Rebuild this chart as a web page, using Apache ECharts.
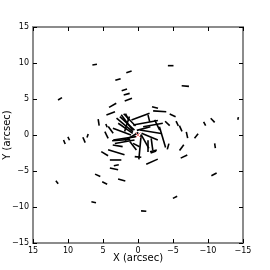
<!DOCTYPE html>
<html><head><meta charset="utf-8">
<script src="https://cdn.jsdelivr.net/npm/echarts@6/dist/echarts.min.js"></script>
<style>html,body{margin:0;padding:0;background:#fff}#c{width:270px;height:270px}</style>
</head><body><div id="c"></div>
<script>
// Vector centres (arcsec), lengths (arcsec) and position angles (deg, in data space)
const vecX = [6.19,-4.67,1.29,2.86,-6.76,1.95,1.62,1.38,11.14,3.62,3.9,-2.43,-3.1,-4.95,-10.67,-9.52,-14.3,5.62,4.5,-5.6,-4.2,-6.1,-7.0,-8.33,-11.0,10.52,9.9,7.71,7.2,4.76,3.1,3.2,3.43,3.1,5.76,4.76,2.33,11.57,6.33,-0.81,-5.29,-10.86,-6.57,-6.24,-4.3,-2.0,-2.2,0.0,
  1.9,1.55,1.79,1.55,-0.36,-1.07,-1.55,-2.74,-1.79,-1.67,-0.29,-1.43,-2.0,-2.2,1.9,1.9,2.9,0.24,4.5,3.9,0.7,
  1.57,2.29,1.57,-2.14,-3.5,0.9,-0.8,2.4,-1.0,1.2];
const vecY = [9.77,9.63,8.77,7.71,6.8,6.27,5.67,4.9,5.02,4.12,3.0,3.82,3.29,2.73,2.04,1.55,2.3,1.76,1.3,1.6,1.6,0.9,0.0,-0.14,-1.5,-0.97,-0.5,-0.69,-0.1,-2.6,-2.4,-3.47,-4.7,-4.2,-5.6,-6.67,-6.25,-6.57,-9.35,-10.56,-8.66,-5.46,-3.0,-1.76,-1.6,-3.7,-2.35,-3.05,
  1.39,1.62,0.93,2.5,2.55,1.7,2.3,1.39,0.46,-0.23,-1.67,-1.55,-1.3,-2.2,-0.46,-0.93,-1.5,-1.4,0.0,0.7,-1.5,
  1.71,0.46,1.53,1.39,-0.3,-0.2,0.9,-0.7,-0.9,2.1];
const vecLen = [0.66,0.8,0.79,0.79,1.04,0.79,0.88,1.1,0.65,1.18,1.31,0.88,1.88,0.92,0.8,0.59,0.39,0.9,0.5,0.74,0.9,0.88,0.87,0.8,0.66,0.61,0.52,0.82,0.5,1.13,2.45,1.64,1.2,0.72,0.82,0.78,1.07,0.53,0.67,0.75,0.67,0.84,1.03,1.0,0.83,1.79,0.84,0.94,
  3.0,2.8,2.5,1.05,2.75,3.6,1.0,1.6,3.1,2.5,3.45,1.64,1.66,1.0,3.3,2.85,1.43,1.05,1.05,1.17,1.5,
  2.75,2.75,2.2,2.85,3.0,2.2,2.0,2.6,2.2,2.4];
const vecAng = [172,0,163,163,5,163,165,160,150,151,159,15,4,24,45,61,104,81,68,63,43,65,77,130,82,67,63,66,110,30,17,0,11,169,24,25,15,52,12,4,155,153,156,127,106,157,161,6,
  39,42,34,63,160,170,76,63,9,22,95.5,90,82,166,172,170,9.5,27,63,53,51,
  53,20,108,170.5,73,150,165,176,60,45];
const xTicks = [15,10,5,0,-5,-10,-15];
const yTicks = [-15,-10,-5,0,5,10,15];
const centre = [[0,0]];

const vecData = vecX.map((x,i)=>[x, vecY[i], vecLen[i], vecAng[i]]);
const fmt = v => String(v).replace('-', '\u2212');
const font = 'DejaVu Sans';
const chart = echarts.init(document.getElementById('c'), null, {renderer:'canvas'});
const axCommon = {
  type:'value', min:-15, max:15, interval:5,
  splitLine:{show:false},
  axisLine:{show:false, onZero:false},
  axisTick:{show:true, inside:true, length:4, lineStyle:{color:'#000', width:1}}
};
chart.setOption({
  animation:false,
  grid:{left:33, right:27, top:27, bottom:27, containLabel:false, outerBoundsMode:'none', show:true, borderColor:'#8c8c8c', borderWidth:2},
  xAxis:[
    Object.assign({}, axCommon, {inverse:true, position:'bottom', name:'X (arcsec)', nameLocation:'middle', nameGap:10, nameMoveOverlap:false,
      nameTextStyle:{fontFamily:font, fontSize:10, color:'#000'},
      axisLabel:{margin:4, fontFamily:font, fontSize:8, color:'#000', formatter:fmt}}),
    Object.assign({}, axCommon, {inverse:true, position:'top', axisLabel:{show:false}})
  ],
  yAxis:[
    Object.assign({}, axCommon, {position:'left', name:'Y (arcsec)', nameLocation:'middle', nameGap:21, nameMoveOverlap:false,
      nameTextStyle:{fontFamily:font, fontSize:10, color:'#000'},
      axisLabel:{margin:4, fontFamily:font, fontSize:8, color:'#000', formatter:fmt}}),
    Object.assign({}, axCommon, {position:'right', axisLabel:{show:false}})
  ],
  series:[
    {type:'custom', xAxisIndex:0, yAxisIndex:0, data:vecData, clip:true,
     renderItem:function(params, api){
       const x=api.value(0), y=api.value(1), L=api.value(2), a=api.value(3)*Math.PI/180;
       const dx=L/2*Math.cos(a), dy=L/2*Math.sin(a);
       const p1=api.coord([x-dx,y-dy]), p2=api.coord([x+dx,y+dy]);
       return {type:'line', shape:{x1:p1[0],y1:p1[1],x2:p2[0],y2:p2[1]}, style:{stroke:'#000', lineWidth:1.6}};
     }},
    {type:'custom', xAxisIndex:0, yAxisIndex:0, data:centre,
     renderItem:function(params, api){
       const p=api.coord([api.value(0), api.value(1)]);
       const s=2.5;
       return {type:'group', children:[
         {type:'line', shape:{x1:p[0]-s,y1:p[1]-s,x2:p[0]+s,y2:p[1]+s}, style:{stroke:'#f08080', lineWidth:1}},
         {type:'line', shape:{x1:p[0]-s,y1:p[1]+s,x2:p[0]+s,y2:p[1]-s}, style:{stroke:'#f08080', lineWidth:1}}
       ]};
     }}
  ]
});
</script></body></html>
